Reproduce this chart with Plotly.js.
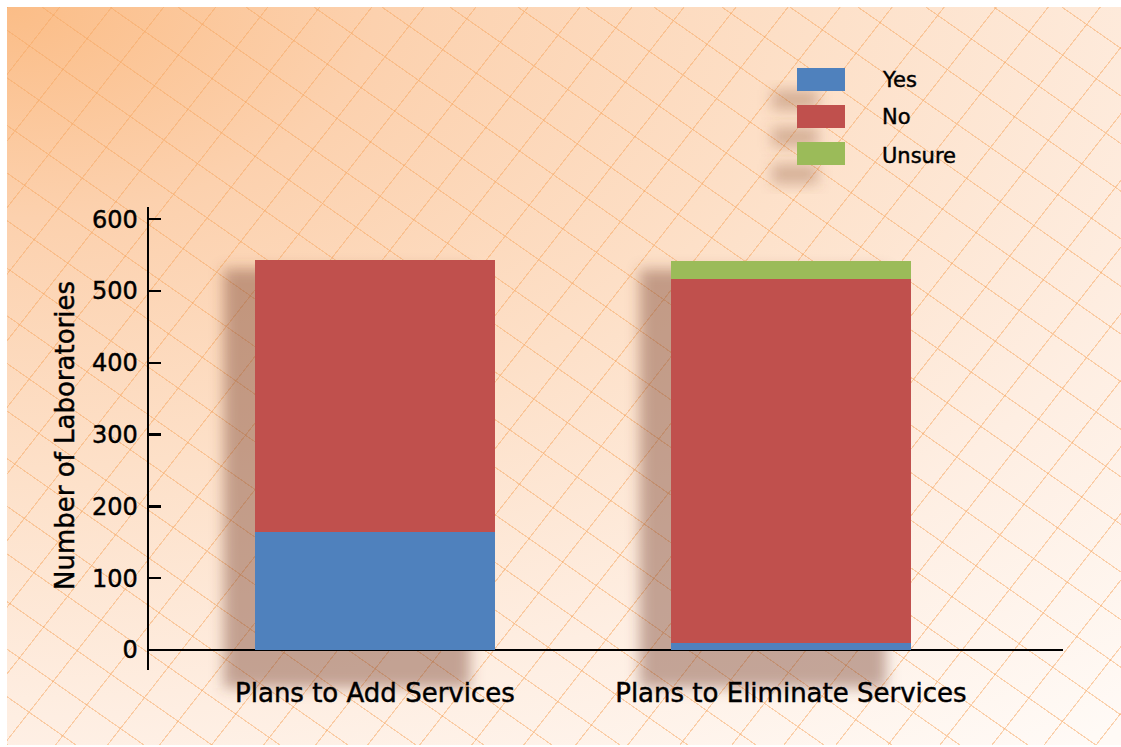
<!DOCTYPE html>
<html>
<head>
<meta charset="utf-8">
<script src="https://cdn.plot.ly/plotly-3.0.1.min.js"></script>
<style>
  html, body { margin: 0; padding: 0; background: #ffffff; }
  #bg {
    position: absolute; left: 7px; top: 7px; width: 1114px; height: 738px;
    background:
      repeating-linear-gradient(35deg, rgba(246,168,100,0.5) 0px, rgba(246,168,100,0.5) 1px, rgba(0,0,0,0) 1.2px, rgba(0,0,0,0) 39px),
      repeating-linear-gradient(128deg, rgba(246,168,100,0.5) 0px, rgba(246,168,100,0.5) 1px, rgba(0,0,0,0) 1.2px, rgba(0,0,0,0) 41px),
      radial-gradient(ellipse 150% 130% at 0% 0%, #fbbd87 0%, #fcd1ae 22%, #fde0c8 48%, #feeee2 74%, #fffaf6 100%);
  }
  #chart { position: absolute; left: 0; top: 0; width: 1121px; height: 747px; }
  #chart svg text { stroke: #000; stroke-width: 0.45px; }
</style>
</head>
<body>
<div id="bg"></div>
<div id="chart"></div>
<script>
// ---- data ----
const categories = ['Plans to Add Services', 'Plans to Eliminate Services'];
const seriesNames = ['Yes', 'No', 'Unsure'];
const yesValues = [164, 10];
const noValues = [379, 507];
const unsureValues = [0, 25];
const yTickVals = [0, 100, 200, 300, 400, 500, 600];
const yTickText = ['0', '100', '200', '300', '400', '500', '600'];

// ---- style ----
const colors = ['#4f81bd', '#c0504d', '#9bbb59'];
const FONT = 'DejaVu Sans, Liberation Sans, Arial, sans-serif';
const W = 1121, H = 747;
const M = {l: 149, r: 58, t: 207, b: 77};
const plotW = W - M.l - M.r, plotH = H - M.t - M.b;
const yRange = [-28, 617];
const xRange = [-0.543, 1.654];
const barWidth = 0.577;

const seriesValues = [yesValues, noValues, unsureValues];
const xIdx = categories.map((c, i) => i);

const traces = seriesNames.map((name, s) => ({
  type: 'bar',
  name: name,
  x: xIdx,
  y: seriesValues[s],
  width: barWidth,
  marker: {color: colors[s], line: {width: 0}},
  hoverinfo: 'x+y+name'
}));

// helpers to paper coords
const yToPaper = v => (v - yRange[0]) / (yRange[1] - yRange[0]);
const pxX = px => (px - M.l) / plotW;
const pxY = py => (H - M.b - py) / plotH;

const shapes = [];
// bar shadows (blurred later)
xIdx.forEach(i => {
  const total = yesValues[i] + noValues[i] + unsureValues[i];
  shapes.push({
    type: 'rect', layer: 'below', xref: 'x', yref: 'paper',
    x0: i - barWidth / 2 - 0.075, x1: i + barWidth / 2 - 0.06,
    y0: yToPaper(yRange[0]) - 18 / plotH, y1: yToPaper(total - 12),
    fillcolor: 'rgba(125,70,50,0.45)', line: {width: 0}, name: 'shadow'
  });
});

// manual legend
const legendTop = [68, 105, 142];
const annotations = [];
seriesNames.forEach((name, s) => {
  const top = legendTop[s];
  shapes.push({
    type: 'rect', layer: 'below', xref: 'paper', yref: 'paper',
    x0: pxX(772), x1: pxX(818), y0: pxY(top + 42), y1: pxY(top + 22),
    fillcolor: 'rgba(140,85,60,0.35)', line: {width: 0}, name: 'shadow'
  });
  shapes.push({
    type: 'rect', layer: 'above', xref: 'paper', yref: 'paper',
    x0: pxX(797), x1: pxX(845), y0: pxY(top + 23), y1: pxY(top),
    fillcolor: colors[s], line: {width: 0}
  });
  annotations.push({
    xref: 'paper', yref: 'paper', x: pxX(880), y: pxY(top + 12 + (s === 2 ? 2 : 0)),
    xanchor: 'left', yanchor: 'middle', showarrow: false,
    text: name, font: {family: FONT, size: 21, color: '#000'}
  });
});

// y-axis title as annotation
annotations.push({
  xref: 'paper', yref: 'paper', x: pxX(65), y: pxY(436),
  xanchor: 'center', yanchor: 'middle', showarrow: false, textangle: -90,
  text: 'Number of Laboratories', font: {family: FONT, size: 26, color: '#000'}
});

const layout = {
  width: W, height: H,
  margin: M,
  paper_bgcolor: 'rgba(0,0,0,0)',
  plot_bgcolor: 'rgba(0,0,0,0)',
  barmode: 'stack',
  showlegend: false,
  font: {family: FONT, color: '#000'},
  xaxis: {
    type: 'linear', range: xRange, tickvals: xIdx, ticktext: categories,
    showgrid: false, zeroline: false, showline: false, ticks: '',
    ticklabelstandoff: 5,
    tickfont: {family: FONT, size: 26, color: '#000'}, fixedrange: true
  },
  yaxis: {
    range: yRange, tickvals: yTickVals, ticktext: yTickText,
    showgrid: false, showline: true, linecolor: '#000', linewidth: 2.5,
    ticks: 'inside', ticklen: 12, tickwidth: 2.5, tickcolor: '#000',
    ticklabelstandoff: 4,
    zeroline: true, zerolinecolor: '#000', zerolinewidth: 2.5,
    tickfont: {family: FONT, size: 24, color: '#000'}, fixedrange: true
  },
  shapes: shapes,
  annotations: annotations
};

Plotly.newPlot('chart', traces, layout, {displayModeBar: false, staticPlot: true}).then(gd => {
  const svg = gd.querySelector('svg.main-svg');
  const NS = 'http://www.w3.org/2000/svg';
  let defs = svg.querySelector('defs');
  if (!defs) { defs = document.createElementNS(NS, 'defs'); svg.insertBefore(defs, svg.firstChild); }
  const f = document.createElementNS(NS, 'filter');
  f.setAttribute('id', 'shadowBlur');
  f.setAttribute('x', '-50%'); f.setAttribute('y', '-50%');
  f.setAttribute('width', '200%'); f.setAttribute('height', '200%');
  const g = document.createElementNS(NS, 'feGaussianBlur');
  g.setAttribute('stdDeviation', '7');
  f.appendChild(g);
  defs.appendChild(f);
  gd.querySelectorAll('.layer-below .shapelayer path').forEach(p => {
    p.setAttribute('filter', 'url(#shadowBlur)');
  });
});
</script>
</body>
</html>
